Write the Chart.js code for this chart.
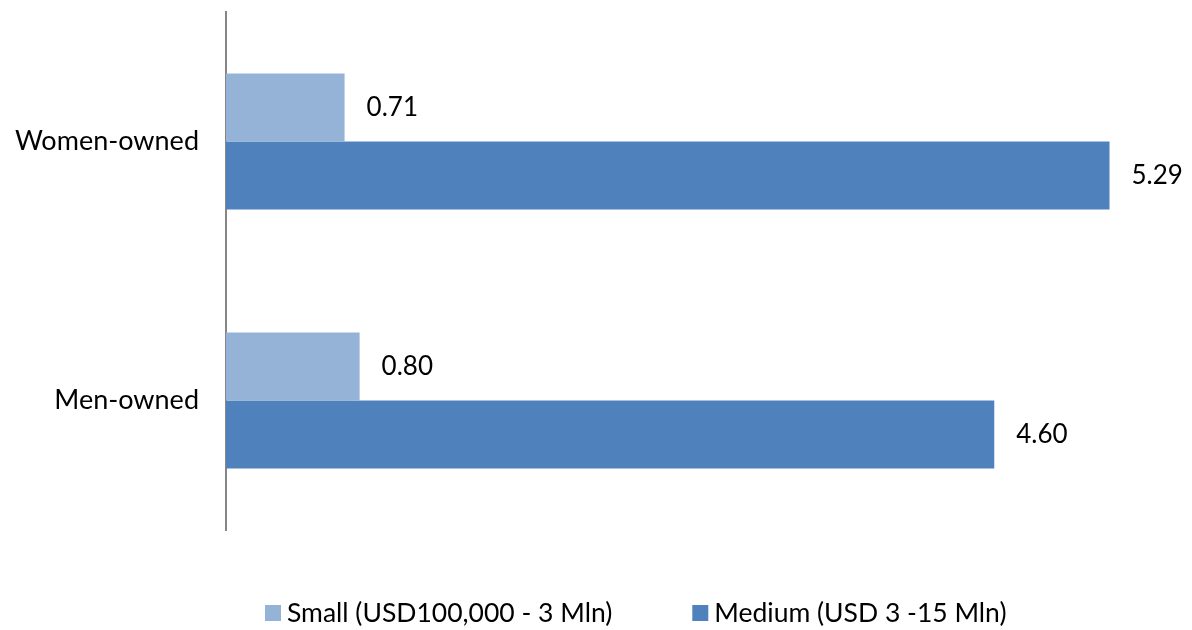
<!DOCTYPE html>
<html>
<head>
<meta charset="utf-8">
<script src="https://cdn.jsdelivr.net/npm/chart.js@4.4.1/dist/chart.umd.min.js"></script>
<style>
  html, body { margin: 0; padding: 0; background: #fff; }
  canvas { display: block; }
</style>
</head>
<body>
<canvas id="ownChart" width="1192" height="630"></canvas>
<script>
const categories = ['Women-owned', 'Men-owned'];
const seriesNames = ['Small (USD100,000 - 3 Mln)', 'Medium (USD 3 -15 Mln)'];
const smallValues = [0.71, 0.80];
const mediumValues = [5.29, 4.60];

const fontFamily = 'Lato, "Liberation Sans", sans-serif';

// value labels to the right of each bar
const barLabels = {
    id: 'barLabels',
    afterDatasetsDraw(chart) {
        const ctx = chart.ctx;
        ctx.save();
        ctx.font = '26px ' + fontFamily;
        ctx.fillStyle = '#000';
        ctx.textAlign = 'left';
        ctx.textBaseline = 'middle';
        chart.data.datasets.forEach((ds, i) => {
            chart.getDatasetMeta(i).data.forEach((bar, j) => {
                ctx.fillText(ds.data[j].toFixed(2), bar.x + 22, bar.y);
            });
        });
        ctx.restore();
    }
};

// legend drawn under the plot, Excel-style spacing
const bottomLegend = {
    id: 'bottomLegend',
    afterDraw(chart) {
        const ctx = chart.ctx;
        ctx.save();
        ctx.font = '26.5px ' + fontFamily;
        ctx.textBaseline = 'middle';
        ctx.textAlign = 'left';
        let x = 265;
        const y = 613;
        chart.data.datasets.forEach(ds => {
            ctx.fillStyle = ds.backgroundColor;
            ctx.fillRect(x, y - 8, 16, 16);
            ctx.fillStyle = '#000';
            ctx.fillText(ds.label, x + 22, y);
            x += 22 + ctx.measureText(ds.label).width + 80;
        });
        ctx.restore();
    }
};

new Chart(document.getElementById('ownChart'), {
    type: 'bar',
    data: {
        labels: categories,
        datasets: [
            { label: seriesNames[0], data: smallValues, backgroundColor: '#95b3d7' },
            { label: seriesNames[1], data: mediumValues, backgroundColor: '#4f81bd' }
        ]
    },
    options: {
        indexAxis: 'y',
        responsive: false,
        animation: false,
        layout: { padding: { top: 12, right: 14, left: 0, bottom: 0 } },
        datasets: {
            bar: { categoryPercentage: 0.525, barPercentage: 1 }
        },
        scales: {
            x: {
                min: 0,
                max: 5.7,
                grid: { display: false },
                border: { display: false },
                ticks: { display: false },
                afterFit(scale) {
                    scale.height = 100;
                    scale.paddingLeft = 0;
                    scale.paddingRight = 0;
                }
            },
            y: {
                grid: { display: false },
                border: { display: true, color: '#868686', width: 2 },
                ticks: {
                    color: '#000',
                    padding: 19,
                    font: { family: fontFamily, size: 27 }
                },
                afterFit(scale) {
                    scale.width = 226;
                    scale.paddingTop = 0;
                    scale.paddingBottom = 0;
                }
            }
        },
        plugins: {
            tooltip: { enabled: false },
            legend: { display: false }
        }
    },
    plugins: [barLabels, bottomLegend]
});
</script>
</body>
</html>
